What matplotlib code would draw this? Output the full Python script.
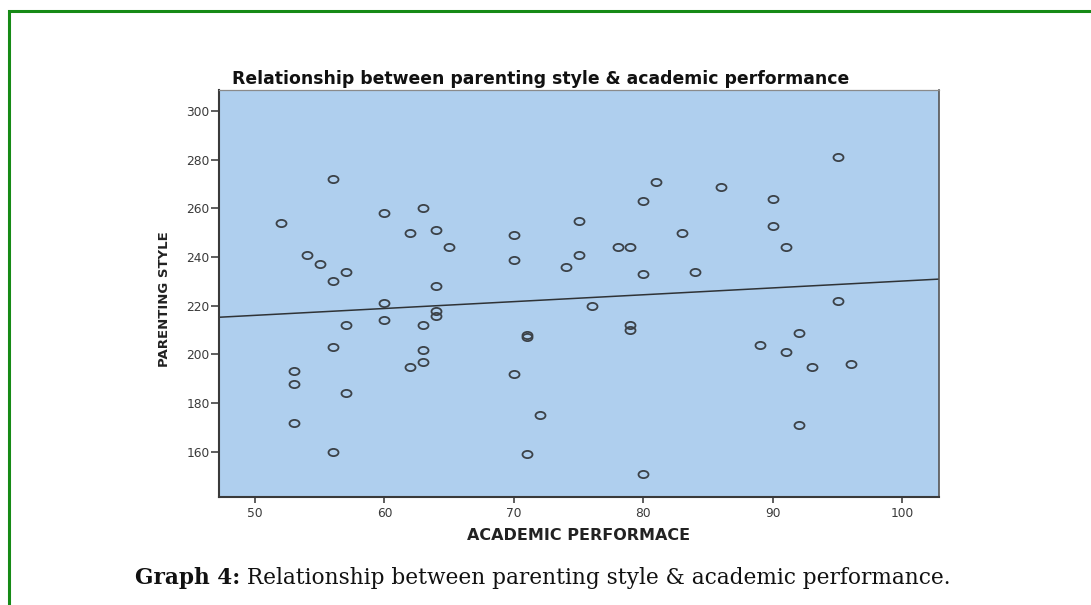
import matplotlib
matplotlib.use("Agg")
import matplotlib.pyplot as plt
from matplotlib.path import Path
from matplotlib.lines import Line2D
import numpy as np

# ---- data ----
academic = [52, 54, 55, 56, 56, 57, 56, 57, 53, 53, 53, 57, 56,
            60, 60, 60, 62, 62, 63, 63, 63, 63, 64, 64, 64, 64, 65,
            70, 70, 70, 71, 71, 72, 71, 74, 75, 75, 76, 78, 79, 79, 79,
            80, 80, 80, 81, 83, 84, 86, 89, 90, 90, 91, 91, 92, 92, 93,
            95, 95, 96]
parenting = [254, 241, 237, 272, 230, 234, 203, 212, 193, 188, 172, 184, 160,
             258, 221, 214, 250, 195, 260, 212, 202, 197, 251, 228, 218, 216, 244,
             249, 239, 192, 208, 207, 175, 159, 236, 255, 241, 220, 244, 244, 212, 210,
             263, 233, 151, 271, 250, 234, 269, 204, 264, 253, 244, 201, 209, 171, 195,
             281, 222, 196]
fit_intercept = 201.97
fit_slope = 0.282

x_ticks = [50, 60, 70, 80, 90, 100]
y_ticks = [160, 180, 200, 220, 240, 260, 280, 300]

title = "Relationship between parenting style & academic performance"
x_label = "ACADEMIC PERFORMACE"
y_label = "PARENTING STYLE"
caption_bold = "Graph 4:"
caption_rest = " Relationship between parenting style & academic performance."

W, H = 1091, 605
fig = plt.figure(figsize=(W / 100, H / 100), dpi=100)
fig.patch.set_facecolor("white")


def fx(px):
    return px / W


def fy(py):
    return 1 - py / H


# green frame (left and top)
fig.add_artist(Line2D([fx(8.5), fx(8.5), 1.0], [0.0, fy(11), fy(11)],
                      transform=fig.transFigure, color="#168a16", lw=2.2,
                      solid_joinstyle="miter"))

ax_l, ax_r, ax_t, ax_b = 219, 939, 90, 497
ax = fig.add_axes([fx(ax_l), fy(ax_b), (ax_r - ax_l) / W, (ax_b - ax_t) / H])
ax.set_facecolor("#afcfee")
ax.set_xlim(47.22, 102.83)
ax.set_ylim(141.4, 308.7)

# elliptical hollow marker
circ = Path.unit_circle()
verts = circ.vertices.copy()
verts[:, 1] *= 0.72
ell = Path(verts, circ.codes)

ax.plot(academic, parenting, linestyle="none", marker=ell, markersize=7.2,
        markerfacecolor="none", markeredgecolor="#3b4147", markeredgewidth=1.3,
        zorder=3)

xs = np.array(ax.get_xlim())
ax.plot(xs, fit_intercept + fit_slope * xs, color="#2f3336", lw=1.1, zorder=2)

ax.set_xticks(x_ticks)
ax.set_yticks(y_ticks)
ax.tick_params(axis="y", length=6, width=1.1, color="#333333", pad=0.8,
               labelsize=8.8, labelcolor="#3a3a3a")
ax.tick_params(axis="x", length=4.5, width=1.1, color="#333333", pad=2.5,
               labelsize=8.8, labelcolor="#3a3a3a")
for lab in ax.get_xticklabels() + ax.get_yticklabels():
    lab.set_family("DejaVu Sans")

for side in ("left", "bottom"):
    ax.spines[side].set_color("#3a3a3a")
    ax.spines[side].set_linewidth(1.5)
ax.spines["right"].set_color("#555555")
ax.spines["right"].set_linewidth(1.2)
ax.spines["top"].set_color("#8a8a8a")
ax.spines["top"].set_linewidth(0.9)

fig.text(fx(541), fy(84), title, ha="center", va="baseline",
         fontsize=12.4, fontweight="bold", family="DejaVu Sans", color="#111111")
fig.text(fx(579), fy(540), x_label, ha="center", va="baseline",
         fontsize=11.5, fontweight="bold", family="DejaVu Sans", color="#222222")
fig.text(fx(164), fy(299), y_label, ha="center", va="center", rotation=90,
         fontsize=9.5, fontweight="bold", family="DejaVu Sans", color="#222222")

# caption with bold prefix
renderer = fig.canvas.get_renderer()
cap_size = 15.6
t1 = fig.text(fx(135), fy(584), caption_bold, ha="left", va="baseline",
              fontsize=cap_size, fontweight="bold", family="DejaVu Serif",
              color="#111111")
bb = t1.get_window_extent(renderer=renderer)
fig.text(bb.x1 / W, fy(584), caption_rest, ha="left", va="baseline",
         fontsize=cap_size, family="DejaVu Serif", color="#111111")

fig.savefig("out.png", dpi=100, facecolor="white")
